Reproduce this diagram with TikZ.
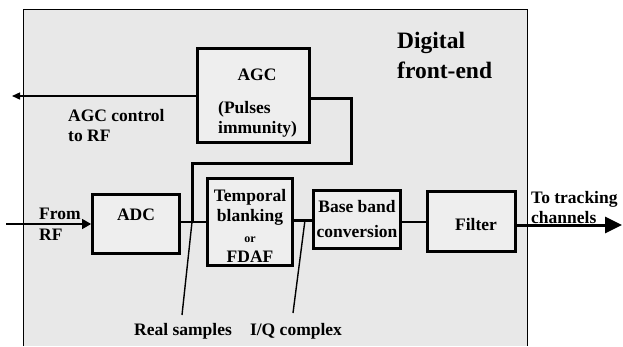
\documentclass[tikz,border=0pt]{standalone}
\usepackage{fontspec}
\setmainfont{Liberation Serif}
\usetikzlibrary{arrows.meta}
\definecolor{panel}{HTML}{E8E8E8}
\definecolor{granite}{HTML}{EEEEEE}
\tikzset{
  blk/.style={draw=black, line width=2.8pt, fill=granite, inner sep=0pt},
  lbl/.style={inner sep=0pt, font=\bfseries\fontsize{17.5}{20.5}\selectfont},
  thinline/.style={line width=1.4pt},
  thickline/.style={line width=3pt},
}
\begin{document}
\begin{tikzpicture}[x=1pt,y=-1pt]
\useasboundingbox (0,0) rectangle (623,346);
% digital front-end panel
\fill[panel] (23,9) rectangle (527,346);
\draw[line width=1pt] (23,346) -- (23,9) -- (527,9) -- (527,346);
\node[inner sep=0pt, anchor=north west, align=left,
      font=\bfseries\fontsize{23.5}{30}\selectfont] (dfe) at (397,32) {Digital\\front-end};

% blocks
\node[blk, minimum width=112pt, minimum height=94pt] (agc) at (253.5,95.5) {};
\node[blk, minimum width=87pt, minimum height=59pt] (adc) at (136,224) {};
\node[blk, minimum width=85pt, minimum height=87pt] (tb) at (250,222) {};
\node[blk, minimum width=87pt, minimum height=58pt] (bb) at (357,219.5) {};
\node[blk, minimum width=88pt, minimum height=60pt] (flt) at (471.5,221.5) {};

% block texts
\node[lbl, anchor=base] (agct) at (257,80) {AGC};
\node[lbl, anchor=north west, align=left] (agcs) at (218,101) {(Pulses\\immunity)};
\node[lbl, anchor=base] (adct) at (136,220) {ADC};
\node[lbl, anchor=north, align=center] (tbt) at (250,189)
  {Temporal\\blanking\\{\fontsize{12}{14}\selectfont or}\\FDAF};
\node[lbl, anchor=north, align=center] (bbt) at (357,200.5)
  {Base band\\[4pt]conversion};
\node[lbl, anchor=base] (fltt) at (476,230) {Filter};

% external labels
\node[lbl, anchor=north west, align=left] (agcl) at (68,109) {AGC control\\to RF};
\node[lbl, anchor=north west, align=left] (fromrf) at (39,208) {From\\RF};
\node[lbl, anchor=north west, align=left] (totrk) at (531,191) {To tracking\\channels};
\node[lbl, anchor=base] (real) at (183,335) {Real samples};
\node[lbl, anchor=base] (iq) at (296,335) {I/Q complex};

% coordinates
\coordinate (agcout) at (12,96);
\coordinate (rfin) at (6,224);
\coordinate (fb1) at (351,98);
\coordinate (fb2) at (351,163);
\coordinate (fb3) at (192,163);
\coordinate (rs) at (192,222);
\coordinate (iqp) at (305,220);
\coordinate (rsend) at (182,315);
\coordinate (iqend) at (293,313);
\coordinate (trk) at (622,225);

% connectors
\draw[thinline, -{Triangle[length=8pt,width=7pt]}] (agc.west |- agcout) -- (agcout);
\draw[thickline, line join=miter] (agc.east |- fb1) -- (fb1) -- (fb2) -- (fb3) -- (rs);
\draw[thinline, -{Triangle[length=9pt,width=10pt]}] (rfin) -- (adc.west |- rfin);
\draw[line width=1.8pt] (adc.east |- rs) -- (tb.west |- rs);
\draw[thickline] (tb.east |- iqp) -- (bb.west |- iqp);
\draw[line width=2.2pt] (bb.east |- 0,222) -- (flt.west |- 0,222);
\draw[thickline, -{Triangle[length=17pt,width=16pt]}] (flt.east |- trk) -- (trk);
\draw[thinline] (rs) -- (rsend);
\draw[thinline] (iqp) -- (iqend);
\end{tikzpicture}
\end{document}
